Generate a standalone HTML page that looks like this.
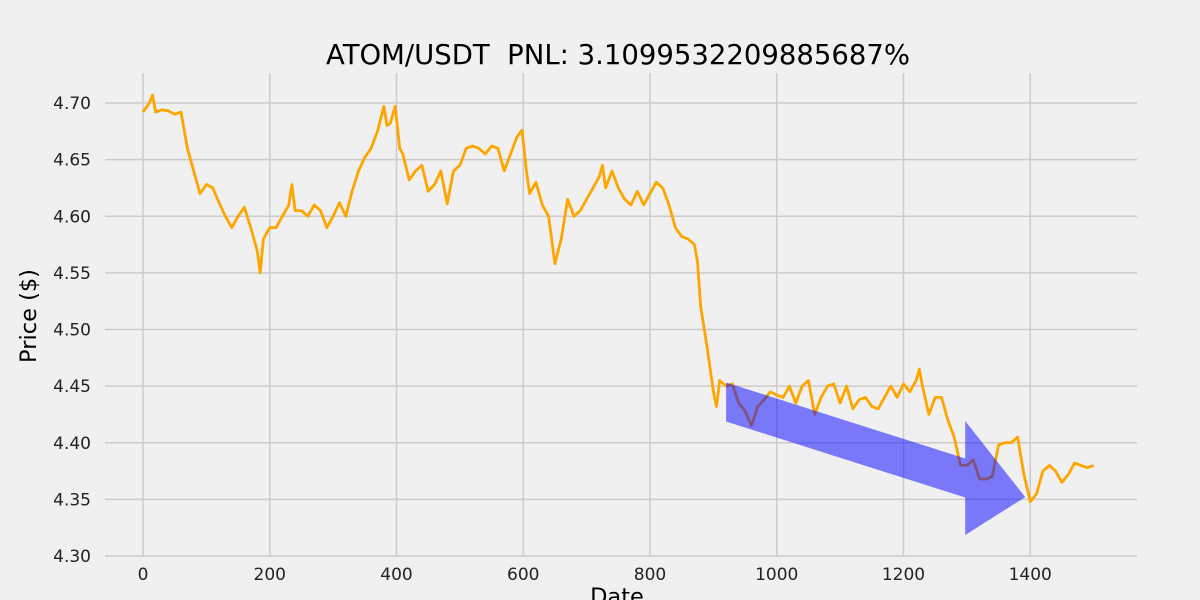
<!DOCTYPE html>
<html><head><meta charset="utf-8"><style>
body{margin:0;background:#f0f0f0}
svg{display:block;font-family:"DejaVu Sans","Liberation Sans",sans-serif}
</style></head><body>
<svg id="chart" width="1200" height="600">
<rect width="1200" height="600" fill="#f0f0f0"/>
<g id="grid"></g>
<g id="ticks"></g>
<path id="line" fill="none" stroke="#ffa500" stroke-width="2.8" stroke-linejoin="round"/>
<polygon id="arrow" fill="#0000ff" fill-opacity="0.5"/>
<text x="618" y="64" text-anchor="middle" font-size="27.5" fill="#000" style="white-space:pre">ATOM/USDT  PNL: 3.1099532209885687%</text>
<text x="617" y="604" text-anchor="middle" font-size="22.5" fill="#000">Date</text>
<text transform="translate(36,316) rotate(-90)" text-anchor="middle" font-size="22.5" fill="#000">Price ($)</text>
</svg>
<script>
const xs=[0,10,15,20,30,40,50,60,70,80,90,100,110,120,130,140,150,160,170,180,185,190,200,210,220,230,235,240,250,260,270,280,290,300,310,320,330,340,350,360,370,380,385,390,398,405,410,420,430,440,450,460,470,480,490,500,510,520,530,540,550,560,570,580,590,598,605,610,620,630,640,650,660,670,680,690,700,710,720,725,730,740,750,760,770,780,790,800,810,820,830,840,850,860,870,875,880,890,900,905,910,920,930,940,950,960,970,980,990,1000,1010,1020,1030,1040,1050,1060,1070,1080,1090,1100,1110,1120,1130,1140,1150,1160,1170,1180,1190,1200,1210,1220,1225,1230,1240,1250,1260,1270,1280,1290,1300,1310,1320,1330,1340,1350,1360,1370,1380,1390,1400,1410,1420,1430,1440,1450,1460,1470,1480,1490,1500];
const prices=[4.692,4.700,4.707,4.692,4.694,4.693,4.690,4.692,4.660,4.640,4.620,4.628,4.625,4.612,4.600,4.590,4.600,4.608,4.590,4.570,4.550,4.580,4.590,4.590,4.600,4.610,4.628,4.605,4.605,4.600,4.610,4.605,4.590,4.600,4.612,4.600,4.622,4.640,4.652,4.660,4.675,4.697,4.680,4.682,4.697,4.660,4.655,4.632,4.640,4.645,4.622,4.628,4.640,4.611,4.640,4.645,4.660,4.662,4.660,4.655,4.662,4.660,4.640,4.655,4.670,4.676,4.640,4.620,4.630,4.610,4.600,4.558,4.580,4.615,4.600,4.605,4.615,4.625,4.635,4.645,4.625,4.640,4.625,4.615,4.610,4.622,4.610,4.620,4.630,4.625,4.610,4.590,4.582,4.580,4.575,4.560,4.520,4.485,4.445,4.432,4.455,4.450,4.452,4.435,4.428,4.415,4.432,4.438,4.445,4.442,4.440,4.450,4.435,4.450,4.455,4.425,4.440,4.450,4.452,4.435,4.450,4.430,4.438,4.440,4.432,4.430,4.440,4.450,4.440,4.452,4.445,4.455,4.465,4.450,4.425,4.440,4.440,4.420,4.405,4.380,4.380,4.385,4.368,4.368,4.370,4.398,4.400,4.400,4.405,4.372,4.348,4.355,4.375,4.380,4.375,4.365,4.372,4.382,4.380,4.378,4.380];
const xTicks=[0,200,400,600,800,1000,1200,1400];
const yTicks=[4.30,4.35,4.40,4.45,4.50,4.55,4.60,4.65,4.70];
const arrowStart=[920,4.436], arrowEnd=[1392,4.352];
const X=v=>143+v*0.63375, Y=v=>103+(4.70-v)*1132.5;
const NS="http://www.w3.org/2000/svg";
const grid=document.getElementById('grid'), ticks=document.getElementById('ticks');
xTicks.forEach(t=>{
 const l=document.createElementNS(NS,'line');
 l.setAttribute('x1',X(t));l.setAttribute('x2',X(t));l.setAttribute('y1',73);l.setAttribute('y2',556);
 l.setAttribute('stroke','#cbcbcb');l.setAttribute('stroke-width','1.5');
 
 
 grid.appendChild(l);
 const tx=document.createElementNS(NS,'text');
 tx.setAttribute('x',X(t));tx.setAttribute('y',580);tx.setAttribute('text-anchor','middle');tx.setAttribute('font-size','17');tx.setAttribute('fill','#222');
 tx.textContent=t;
 
 
 ticks.appendChild(tx);
});
yTicks.forEach(t=>{
 const l=document.createElementNS(NS,'line');
 l.setAttribute('x1',105);l.setAttribute('x2',1137);l.setAttribute('y1',Y(t));l.setAttribute('y2',Y(t));
 l.setAttribute('stroke','#cbcbcb');l.setAttribute('stroke-width','1.5');
 
 
 grid.appendChild(l);
 const tx=document.createElementNS(NS,'text');
 tx.setAttribute('x',91);tx.setAttribute('y',Y(t)+6);tx.setAttribute('text-anchor','end');tx.setAttribute('font-size','17');tx.setAttribute('fill','#222');
 tx.textContent=t.toFixed(2);
 
 
 ticks.appendChild(tx);
});
document.getElementById('line').setAttribute('d',xs.map((x,i)=>(i?'L':'M')+X(x).toFixed(1)+','+Y(prices[i]).toFixed(1)).join(''));
const x0=X(arrowStart[0]),y0=Y(arrowStart[1]),x1=X(arrowEnd[0]),y1=Y(arrowEnd[1]);
const hw=19.5,hhw=57,hl=60;
const bx=x1-hl, by=y0+(y1-y0)*(bx-x0)/(x1-x0);
const pts=[[x0,y0-hw],[bx,by-hw],[bx,by-hhw],[x1,y1],[bx,by+hhw],[bx,by+hw],[x0,y0+hw]];
document.getElementById('arrow').setAttribute('points',pts.map(p=>p[0].toFixed(1)+','+p[1].toFixed(1)).join(' '));
</script>
</body></html>
